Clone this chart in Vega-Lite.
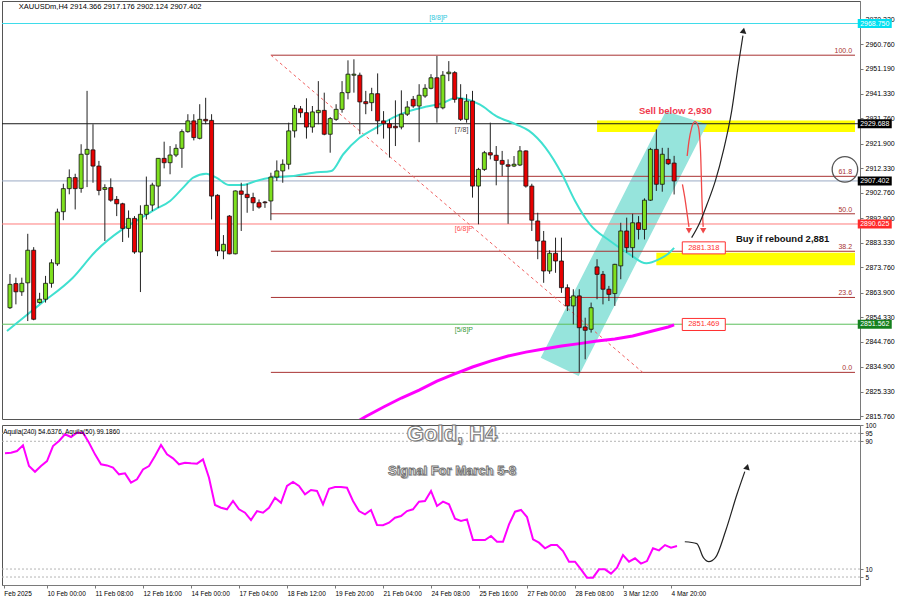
{
"$schema":"https://vega.github.io/schema/vega-lite/v6.json",
"background":"#ffffff",
"padding":0,
"spacing":1,
"config":{"view":{"stroke":"#555","strokeWidth":1},"font":"Liberation Sans","axis":{"labelFont":"Liberation Sans","labelColor":"#000","domainColor":"#7a7a7a","tickColor":"#7a7a7a","grid":false,"labelOverlap":false,"labelBound":false,"labelFlush":false,"tickCount":60}},
"datasets":{
"candles":[
{"i":1,"o":2858.0,"h":2871.1,"l":2857.5,"c":2867.1},{"i":2,"o":2867.4,"h":2869.7,"l":2859.3,"c":2864.2},{"i":3,"o":2864.2,"h":2869.7,"l":2862.6,"c":2867.5},{"i":4,"o":2867.7,"h":2886.8,"l":2852.8,"c":2880.4},{"i":5,"o":2880.4,"h":2881.6,"l":2853.1,"c":2853.5},{"i":6,"o":2860.0,"h":2863.8,"l":2859.6,"c":2861.3},{"i":7,"o":2861.3,"h":2870.4,"l":2860.0,"c":2867.5},{"i":8,"o":2867.5,"h":2876.9,"l":2865.8,"c":2875.5},{"i":9,"o":2875.1,"h":2896.6,"l":2874.3,"c":2895.3},{"i":10,"o":2895.4,"h":2906.3,"l":2892.1,"c":2904.4},
{"i":11,"o":2904.4,"h":2911.9,"l":2902.2,"c":2908.7},{"i":12,"o":2908.7,"h":2910.2,"l":2896.3,"c":2904.4},{"i":13,"o":2904.5,"h":2921.7,"l":2902.8,"c":2917.8},{"i":14,"o":2917.8,"h":2942.5,"l":2905.0,"c":2919.7},{"i":15,"o":2919.5,"h":2929.5,"l":2906.7,"c":2913.2},{"i":16,"o":2913.2,"h":2915.2,"l":2901.8,"c":2903.7},{"i":17,"o":2904.1,"h":2906.1,"l":2884.0,"c":2904.8},{"i":18,"o":2904.8,"h":2908.4,"l":2899.3,"c":2899.9},{"i":19,"o":2900.2,"h":2901.5,"l":2893.7,"c":2898.5},{"i":20,"o":2898.5,"h":2898.9,"l":2883.6,"c":2888.9},
{"i":21,"o":2888.9,"h":2895.9,"l":2885.3,"c":2892.8},{"i":22,"o":2892.8,"h":2893.7,"l":2879.0,"c":2879.7},{"i":23,"o":2879.7,"h":2897.9,"l":2864.1,"c":2894.4},{"i":24,"o":2894.4,"h":2909.1,"l":2892.4,"c":2897.9},{"i":25,"o":2898.0,"h":2906.7,"l":2895.7,"c":2905.8},{"i":26,"o":2905.4,"h":2916.3,"l":2896.9,"c":2916.2},{"i":27,"o":2916.2,"h":2922.7,"l":2912.3,"c":2914.5},{"i":28,"o":2914.5,"h":2921.0,"l":2910.0,"c":2917.5},{"i":29,"o":2917.5,"h":2921.7,"l":2916.7,"c":2920.1},{"i":30,"o":2920.1,"h":2927.5,"l":2912.5,"c":2926.6},
{"i":31,"o":2926.6,"h":2933.4,"l":2926.2,"c":2930.8},{"i":32,"o":2930.8,"h":2933.4,"l":2923.2,"c":2924.3},{"i":33,"o":2924.0,"h":2937.3,"l":2923.6,"c":2931.4},{"i":34,"o":2931.4,"h":2939.8,"l":2929.5,"c":2930.8},{"i":35,"o":2931.0,"h":2933.4,"l":2892.4,"c":2901.5},{"i":36,"o":2901.8,"h":2902.2,"l":2878.1,"c":2880.1},{"i":37,"o":2880.1,"h":2886.3,"l":2876.9,"c":2882.7},{"i":38,"o":2893.7,"h":2894.1,"l":2878.8,"c":2879.0},{"i":39,"o":2879.0,"h":2903.7,"l":2878.8,"c":2903.5},{"i":40,"o":2903.5,"h":2906.7,"l":2887.9,"c":2902.2},
{"i":41,"o":2902.2,"h":2906.3,"l":2895.0,"c":2900.9},{"i":42,"o":2900.9,"h":2902.8,"l":2895.7,"c":2898.9},{"i":43,"o":2898.9,"h":2900.2,"l":2896.6,"c":2897.2},{"i":44,"o":2899.2,"h":2899.6,"l":2896.9,"c":2898.9},{"i":45,"o":2899.6,"h":2910.6,"l":2892.1,"c":2908.9},{"i":46,"o":2908.9,"h":2915.4,"l":2907.4,"c":2911.3},{"i":47,"o":2911.3,"h":2915.8,"l":2906.7,"c":2913.9},{"i":48,"o":2913.9,"h":2930.1,"l":2911.9,"c":2926.9},{"i":49,"o":2926.9,"h":2937.0,"l":2924.3,"c":2935.7},{"i":50,"o":2935.5,"h":2936.6,"l":2932.1,"c":2934.0},
{"i":51,"o":2934.0,"h":2939.6,"l":2923.9,"c":2928.4},{"i":52,"o":2928.4,"h":2936.6,"l":2926.2,"c":2934.3},{"i":53,"o":2934.0,"h":2946.3,"l":2929.5,"c":2934.9},{"i":54,"o":2934.9,"h":2941.8,"l":2925.2,"c":2925.6},{"i":55,"o":2925.6,"h":2932.3,"l":2918.4,"c":2931.7},{"i":56,"o":2931.4,"h":2937.3,"l":2930.8,"c":2935.3},{"i":57,"o":2935.3,"h":2946.3,"l":2934.0,"c":2941.8},{"i":58,"o":2941.8,"h":2954.4,"l":2939.2,"c":2949.0},{"i":59,"o":2948.6,"h":2954.8,"l":2941.8,"c":2949.0},{"i":60,"o":2948.6,"h":2949.6,"l":2925.6,"c":2938.2},
{"i":61,"o":2938.3,"h":2942.5,"l":2933.4,"c":2937.5},{"i":62,"o":2937.9,"h":2943.7,"l":2934.6,"c":2941.4},{"i":63,"o":2941.4,"h":2949.3,"l":2925.6,"c":2930.8},{"i":64,"o":2930.8,"h":2934.6,"l":2923.9,"c":2929.7},{"i":65,"o":2929.7,"h":2931.4,"l":2916.5,"c":2928.1},{"i":66,"o":2928.7,"h":2938.8,"l":2921.0,"c":2928.1},{"i":67,"o":2928.4,"h":2942.7,"l":2927.5,"c":2933.4},{"i":68,"o":2933.4,"h":2938.5,"l":2932.7,"c":2936.2},{"i":69,"o":2939.2,"h":2940.5,"l":2935.9,"c":2936.6},{"i":70,"o":2936.6,"h":2945.1,"l":2922.5,"c":2940.8},
{"i":71,"o":2940.5,"h":2945.1,"l":2939.8,"c":2943.5},{"i":72,"o":2943.5,"h":2949.0,"l":2943.1,"c":2947.6},{"i":73,"o":2947.6,"h":2956.1,"l":2930.1,"c":2935.9},{"i":74,"o":2935.9,"h":2950.2,"l":2935.3,"c":2948.6},{"i":75,"o":2949.2,"h":2954.1,"l":2946.3,"c":2949.8},{"i":76,"o":2949.6,"h":2950.2,"l":2937.9,"c":2939.2},{"i":77,"o":2939.5,"h":2945.1,"l":2930.8,"c":2931.4},{"i":78,"o":2931.4,"h":2941.2,"l":2930.1,"c":2938.5},{"i":79,"o":2938.5,"h":2942.5,"l":2900.9,"c":2905.4},{"i":80,"o":2905.4,"h":2912.5,"l":2890.5,"c":2911.9},
{"i":81,"o":2911.9,"h":2919.1,"l":2911.3,"c":2918.4},{"i":82,"o":2918.4,"h":2930.1,"l":2915.8,"c":2917.5},{"i":83,"o":2917.4,"h":2921.0,"l":2905.7,"c":2915.4},{"i":84,"o":2915.4,"h":2919.1,"l":2909.3,"c":2913.9},{"i":85,"o":2913.7,"h":2915.8,"l":2890.7,"c":2913.1},{"i":86,"o":2913.2,"h":2917.1,"l":2912.8,"c":2913.9},{"i":87,"o":2913.6,"h":2921.0,"l":2913.2,"c":2919.1},{"i":88,"o":2919.1,"h":2919.3,"l":2904.8,"c":2905.4},{"i":89,"o":2905.4,"h":2906.3,"l":2887.9,"c":2892.1},{"i":90,"o":2891.8,"h":2895.0,"l":2876.9,"c":2884.0},
{"i":91,"o":2884.0,"h":2887.9,"l":2867.7,"c":2872.3},{"i":92,"o":2872.3,"h":2880.4,"l":2871.2,"c":2879.2},{"i":93,"o":2879.2,"h":2885.3,"l":2871.6,"c":2876.2},{"i":94,"o":2876.2,"h":2885.3,"l":2863.8,"c":2865.8},{"i":95,"o":2865.8,"h":2867.1,"l":2856.7,"c":2858.7},{"i":96,"o":2858.7,"h":2865.2,"l":2851.5,"c":2862.6},{"i":97,"o":2862.6,"h":2865.2,"l":2832.8,"c":2850.2},{"i":98,"o":2850.5,"h":2854.1,"l":2837.9,"c":2849.2},{"i":99,"o":2849.6,"h":2860.0,"l":2848.3,"c":2858.0},{"i":100,"o":2873.9,"h":2876.9,"l":2861.3,"c":2871.0},
{"i":101,"o":2871.0,"h":2872.3,"l":2859.3,"c":2865.2},{"i":102,"o":2865.2,"h":2866.5,"l":2860.6,"c":2863.2},{"i":103,"o":2863.5,"h":2875.1,"l":2858.7,"c":2874.9},{"i":104,"o":2874.3,"h":2891.1,"l":2869.1,"c":2887.9},{"i":105,"o":2887.9,"h":2893.1,"l":2879.4,"c":2881.4},{"i":106,"o":2881.4,"h":2894.6,"l":2877.5,"c":2891.1},{"i":107,"o":2891.1,"h":2893.7,"l":2884.6,"c":2888.5},{"i":108,"o":2888.5,"h":2900.6,"l":2884.6,"c":2899.9},{"i":109,"o":2899.9,"h":2920.3,"l":2899.6,"c":2919.7},{"i":110,"o":2919.7,"h":2927.5,"l":2903.5,"c":2906.1},
{"i":111,"o":2906.1,"h":2920.3,"l":2903.2,"c":2917.8},{"i":112,"o":2915.8,"h":2920.3,"l":2913.6,"c":2914.1},{"i":113,"o":2914.366,"h":2917.176,"l":2902.124,"c":2907.402}
],
"cyan":[
{"i":0.5,"p":2848.9},{"i":6.05,"p":2859.3},{"i":11.6,"p":2869.7},{"i":15.5,"p":2880.1},{"i":19.95,"p":2888.5},{"i":22.7,"p":2892.4},{"i":25.5,"p":2896.3},{"i":28,"p":2899.6},{"i":30.2,"p":2904.8},{"i":31.9,"p":2908.7},{"i":34.1,"p":2910.2},{"i":35.8,"p":2908.7},{"i":38,"p":2905.8},{"i":40.2,"p":2905.8},{"i":42.5,"p":2907.4},{"i":45.2,"p":2908.7},{"i":48.8,"p":2909.3},{"i":52.2,"p":2910.6},{"i":55.2,"p":2911.3},{"i":57.2,"p":2917.8},{"i":59.95,"p":2924.2},{"i":62.7,"p":2928.1},{"i":65.5,"p":2932.0},{"i":68.3,"p":2934.6},{"i":71.05,"p":2936.3},{"i":73.8,"p":2937.6},{"i":76.3,"p":2939.8},{"i":78,"p":2939.2},{"i":80.2,"p":2937.2},{"i":83,"p":2932.7},{"i":86.3,"p":2929.5},{"i":88.55,"p":2926.9},{"i":91.3,"p":2920.4},{"i":94.1,"p":2910.0},{"i":96.3,"p":2899.6},{"i":98.8,"p":2890.5},{"i":102.2,"p":2884.0},{"i":105.5,"p":2878.8},{"i":108.3,"p":2875.3},{"i":110.5,"p":2876.9},{"i":112.2,"p":2879.4},{"i":113,"p":2881.3}
],
"ma200":[
{"i":58,"p":2811.5},{"i":61,"p":2815.6},{"i":64,"p":2819.3},{"i":67,"p":2822.8},{"i":70,"p":2825.9},{"i":73,"p":2829.4},{"i":76,"p":2832.2},{"i":79,"p":2834.9},{"i":82,"p":2837.2},{"i":85,"p":2839.2},{"i":88,"p":2840.7},{"i":91,"p":2841.9},{"i":94,"p":2843.1},{"i":97,"p":2844.0},{"i":100,"p":2845.0},{"i":103,"p":2845.8},{"i":106,"p":2847.0},{"i":109,"p":2848.7},{"i":112,"p":2850.5},{"i":113,"p":2851.3}
],
"levels":[
{"p":2968.75,"lvl":"8/8"},{"p":2929.688,"lvl":"7/8"},{"p":2907.402,"lvl":"price"},{"p":2890.625,"lvl":"6/8"},{"p":2851.562,"lvl":"5/8"}
],
"fib":[
{"p":2956.4,"label":"100.0"},{"p":2909.2,"label":"61.8"},{"p":2894.6,"label":"50.0"},{"p":2880.0,"label":"38.2"},{"p":2862.0,"label":"23.6"},{"p":2832.8,"label":"0.0"}
],
"osc":[
{"i":1,"v":82.5},{"i":2,"v":82.8},{"i":3,"v":83.9},{"i":4,"v":87.5},{"i":5,"v":74.5},{"i":6,"v":70.9},{"i":7,"v":74.5},{"i":8,"v":77.6},{"i":9,"v":87.0},{"i":10,"v":90.2},
{"i":11,"v":94.4},{"i":12,"v":92.7},{"i":13,"v":95.4},{"i":14,"v":95.4},{"i":15,"v":89.1},{"i":16,"v":81.8},{"i":17,"v":75.6},{"i":18,"v":74.9},{"i":19,"v":73.5},{"i":20,"v":69.3},
{"i":21,"v":69.9},{"i":22,"v":64.1},{"i":23,"v":66.2},{"i":24,"v":72.4},{"i":25,"v":74.5},{"i":26,"v":80.8},{"i":27,"v":87.7},{"i":28,"v":81.8},{"i":29,"v":79.3},{"i":30,"v":75.6},
{"i":31,"v":76.6},{"i":32,"v":76.2},{"i":33,"v":76.0},{"i":34,"v":78.7},{"i":35,"v":67.2},{"i":36,"v":50.1},{"i":37,"v":48.4},{"i":38,"v":47.4},{"i":39,"v":52.6},{"i":40,"v":47.4},
{"i":41,"v":45.3},{"i":42,"v":40.7},{"i":43,"v":46.3},{"i":44,"v":45.3},{"i":45,"v":48.4},{"i":46,"v":54.7},{"i":47,"v":51.5},{"i":48,"v":62.0},{"i":49,"v":64.5},{"i":50,"v":62.0},
{"i":51,"v":56.8},{"i":52,"v":59.5},{"i":53,"v":58.9},{"i":54,"v":50.5},{"i":55,"v":60.3},{"i":56,"v":61.4},{"i":57,"v":61.4},{"i":58,"v":60.9},{"i":59,"v":52.6},{"i":60,"v":46.3},
{"i":61,"v":44.3},{"i":62,"v":47.0},{"i":63,"v":37.6},{"i":64,"v":37.4},{"i":65,"v":39.0},{"i":66,"v":42.1},{"i":67,"v":43.2},{"i":68,"v":46.3},{"i":69,"v":47.4},{"i":70,"v":52.2},
{"i":71,"v":52.6},{"i":72,"v":58.9},{"i":73,"v":49.5},{"i":74,"v":52.2},{"i":75,"v":50.5},{"i":76,"v":41.5},{"i":77,"v":40.1},{"i":78,"v":41.1},{"i":79,"v":28.2},{"i":80,"v":28.2},
{"i":81,"v":28.2},{"i":82,"v":30.7},{"i":83,"v":27.1},{"i":84,"v":27.1},{"i":85,"v":38.0},{"i":86,"v":45.9},{"i":87,"v":47.0},{"i":88,"v":42.6},{"i":89,"v":28.6},{"i":90,"v":26.5},
{"i":91,"v":23.0},{"i":92,"v":25.0},{"i":93,"v":25.0},{"i":94,"v":21.3},{"i":95,"v":14.6},{"i":96,"v":14.6},{"i":97,"v":9.8},{"i":98,"v":4.6},{"i":99,"v":4.6},{"i":100,"v":9.8},
{"i":101,"v":9.8},{"i":102,"v":7.1},{"i":103,"v":10.8},{"i":104,"v":18.8},{"i":105,"v":14.6},{"i":106,"v":16.7},{"i":107,"v":13.4},{"i":108,"v":15.0},{"i":109,"v":23.0},{"i":110,"v":21.7},
{"i":111,"v":25.0},{"i":112,"v":23.4},{"i":113,"v":24.4}
]
},
"vconcat":[
{
"width":858,"height":418,
"resolve":{"scale":{"stroke":"independent","fill":"independent"}},
"layer":[
{"data":{"values":[{"from":100,"top":2931.0,"bottom":2926.5},{"from":110,"top":2879.4,"bottom":2874.5}]},
 "mark":{"type":"rect","color":"#ffff00"},
 "encoding":{
  "x":{"field":"from","type":"quantitative","scale":{"domain":[0.5,143.5],"nice":false,"zero":false},"axis":null},
  "x2":{"datum":143.5},
  "y":{"field":"top","type":"quantitative","scale":{"domain":[2814.63,2977.52],"nice":false,"zero":false},
   "axis":{"orient":"right","title":null,"values":[2970.32,2960.76,2951.19,2941.33,2931.76,2921.9,2912.33,2902.76,2892.9,2883.33,2873.76,2863.9,2854.33,2844.76,2834.9,2825.33,2815.76],"tickCount":60,"format":".3f","labelFontSize":7,"labelPadding":2,"tickSize":3,"labelOverlap":false,"labelBound":false,"labelFlush":false}},
  "y2":{"field":"bottom"}}},
{"data":{"values":[{"i":90.5,"lo":2838.5,"hi":2838.5},{"i":96.9,"lo":2831.4,"hi":2867.6},{"i":111.6,"lo":2898.0,"hi":2934.6},{"i":118.55,"lo":2929.5,"hi":2929.5}]},
 "mark":{"type":"area","color":"#96e4dc"},
 "encoding":{
  "x":{"field":"i","type":"quantitative","scale":{"domain":[0.5,143.5],"nice":false,"zero":false},"axis":null},
  "y":{"field":"lo","type":"quantitative","scale":{"domain":[2814.63,2977.52],"nice":false,"zero":false}},
  "y2":{"field":"hi"}}},
{"data":{"name":"levels"},
 "mark":{"type":"rule","strokeWidth":1},
 "encoding":{
  "y":{"field":"p","type":"quantitative","scale":{"domain":[2814.63,2977.52],"nice":false,"zero":false}},
  "stroke":{"field":"lvl","type":"nominal","scale":{"domain":["8/8","7/8","price","6/8","5/8"],"range":["#3fdcea","#1a1a1a","#9aaac4","#ff7b7b","#5cbf5c"]},"legend":null}}},
{"data":{"name":"fib"},
 "mark":{"type":"rule","color":"#a83232","strokeWidth":1},
 "encoding":{
  "x":{"datum":45,"type":"quantitative","scale":{"domain":[0.5,143.5],"nice":false,"zero":false},"axis":null},
  "x2":{"datum":143.5},
  "y":{"field":"p","type":"quantitative","scale":{"domain":[2814.63,2977.52],"nice":false,"zero":false}}}},
{"data":{"name":"fib"},
 "mark":{"type":"text","align":"right","baseline":"bottom","dy":-1,"fontSize":7,"color":"#a83232"},
 "encoding":{
  "x":{"datum":143,"type":"quantitative","scale":{"domain":[0.5,143.5],"nice":false,"zero":false},"axis":null},
  "y":{"field":"p","type":"quantitative","scale":{"domain":[2814.63,2977.52],"nice":false,"zero":false}},
  "text":{"field":"label"}}},
{"data":{"values":[{"i":45,"p":2956.4},{"i":107.7,"p":2832.8}]},
 "mark":{"type":"line","color":"#f06060","strokeDash":[3,3],"strokeWidth":1},
 "encoding":{
  "x":{"field":"i","type":"quantitative","scale":{"domain":[0.5,143.5],"nice":false,"zero":false},"axis":null},
  "y":{"field":"p","type":"quantitative","scale":{"domain":[2814.63,2977.52],"nice":false,"zero":false}}}},
{"data":{"name":"ma200"},
 "mark":{"type":"line","color":"#ff00ff","strokeWidth":3,"clip":true},
 "encoding":{
  "x":{"field":"i","type":"quantitative","scale":{"domain":[0.5,143.5],"nice":false,"zero":false},"axis":null},
  "y":{"field":"p","type":"quantitative","scale":{"domain":[2814.63,2977.52],"nice":false,"zero":false}}}},
{"data":{"name":"cyan"},
 "mark":{"type":"line","color":"#40e0d0","strokeWidth":2,"interpolate":"monotone"},
 "encoding":{
  "x":{"field":"i","type":"quantitative","scale":{"domain":[0.5,143.5],"nice":false,"zero":false},"axis":null},
  "y":{"field":"p","type":"quantitative","scale":{"domain":[2814.63,2977.52],"nice":false,"zero":false}}}},
{"data":{"name":"candles"},
 "mark":{"type":"rule","color":"#222","strokeWidth":1},
 "encoding":{
  "x":{"field":"i","type":"quantitative","scale":{"domain":[0.5,143.5],"nice":false,"zero":false},"axis":null},
  "y":{"field":"l","type":"quantitative","scale":{"domain":[2814.63,2977.52],"nice":false,"zero":false}},
  "y2":{"field":"h"}}},
{"data":{"name":"candles"},
 "mark":{"type":"bar","size":4,"stroke":"#111","strokeWidth":0.8},
 "encoding":{
  "x":{"field":"i","type":"quantitative","scale":{"domain":[0.5,143.5],"nice":false,"zero":false},"axis":null},
  "y":{"field":"o","type":"quantitative","scale":{"domain":[2814.63,2977.52],"nice":false,"zero":false}},
  "y2":{"field":"c"},
  "color":{"condition":{"test":"datum.c >= datum.o","value":"#7ee01e"},"value":"#e80000"}}},
{"data":{"values":[{"id":"a","i":115.2,"p":2917.1},{"id":"a","i":115.5,"p":2922.9},{"id":"a","i":115.95,"p":2928.1},{"id":"a","i":116.5,"p":2930.5},{"id":"a","i":117.05,"p":2928.8},{"id":"a","i":117.45,"p":2919.1},{"id":"a","i":117.7,"p":2899.6},{"id":"a","i":117.9,"p":2889.5},{"id":"b","i":114.4,"p":2906.1},{"id":"b","i":114.8,"p":2900.9},{"id":"b","i":115.2,"p":2894.4},{"id":"b","i":115.5,"p":2889.5}]},
 "mark":{"type":"line","color":"#f04848","strokeWidth":1.3,"interpolate":"monotone"},
 "encoding":{
  "x":{"field":"i","type":"quantitative","scale":{"domain":[0.5,143.5],"nice":false,"zero":false},"axis":null},
  "y":{"field":"p","type":"quantitative","scale":{"domain":[2814.63,2977.52],"nice":false,"zero":false}},
  "detail":{"field":"id"}}},
{"data":{"values":[{"i":117.9,"p":2888.0},{"i":115.5,"p":2888.0}]},
 "mark":{"type":"point","shape":"triangle-down","filled":true,"size":40,"color":"#f04848","opacity":1},
 "encoding":{
  "x":{"field":"i","type":"quantitative","scale":{"domain":[0.5,143.5],"nice":false,"zero":false},"axis":null},
  "y":{"field":"p","type":"quantitative","scale":{"domain":[2814.63,2977.52],"nice":false,"zero":false}}}},
{"data":{"values":[{"i":115.95,"p":2885.3},{"i":117.2,"p":2890.5},{"i":118.55,"p":2898.3},{"i":119.95,"p":2907.4},{"i":121.3,"p":2919.1},{"i":122.7,"p":2934.6},{"i":123.8,"p":2952.2},{"i":124.6,"p":2964.0}]},
 "mark":{"type":"line","color":"#222","strokeWidth":1.2,"interpolate":"monotone"},
 "encoding":{
  "x":{"field":"i","type":"quantitative","scale":{"domain":[0.5,143.5],"nice":false,"zero":false},"axis":null},
  "y":{"field":"p","type":"quantitative","scale":{"domain":[2814.63,2977.52],"nice":false,"zero":false}}}},
{"data":{"values":[{"i":124.7,"p":2966.0}]},
 "mark":{"type":"point","shape":"triangle-up","filled":true,"size":45,"color":"#222","angle":10,"opacity":1},
 "encoding":{
  "x":{"field":"i","type":"quantitative","scale":{"domain":[0.5,143.5],"nice":false,"zero":false},"axis":null},
  "y":{"field":"p","type":"quantitative","scale":{"domain":[2814.63,2977.52],"nice":false,"zero":false}}}},
{"data":{"values":[{"i":113.2,"p":2934.6,"t":"Sell below 2,930"}]},
 "mark":{"type":"text","fontSize":9.5,"fontWeight":"bold","color":"#f0384c","align":"center","baseline":"middle"},
 "encoding":{
  "x":{"field":"i","type":"quantitative","scale":{"domain":[0.5,143.5],"nice":false,"zero":false},"axis":null},
  "y":{"field":"p","type":"quantitative","scale":{"domain":[2814.63,2977.52],"nice":false,"zero":false}},
  "text":{"field":"t"}}},
{"data":{"values":[{"i":131.3,"p":2884.6,"t":"Buy if rebound 2,881"}]},
 "mark":{"type":"text","fontSize":9.5,"fontWeight":"bold","color":"#111","align":"center","baseline":"middle"},
 "encoding":{
  "x":{"field":"i","type":"quantitative","scale":{"domain":[0.5,143.5],"nice":false,"zero":false},"axis":null},
  "y":{"field":"p","type":"quantitative","scale":{"domain":[2814.63,2977.52],"nice":false,"zero":false}},
  "text":{"field":"t"}}},
{"data":{"values":[{"i":71.7,"p":2970.9,"t":"[8/8]P"}]},
 "mark":{"type":"text","fontSize":7,"color":"#30c8dc","align":"left","baseline":"middle"},
 "encoding":{
  "x":{"field":"i","type":"quantitative","scale":{"domain":[0.5,143.5],"nice":false,"zero":false},"axis":null},
  "y":{"field":"p","type":"quantitative","scale":{"domain":[2814.63,2977.52],"nice":false,"zero":false}},
  "text":{"field":"t"}}},
{"data":{"values":[{"i":76,"p":2927.2,"t":"[7/8]"}]},
 "mark":{"type":"text","fontSize":7,"color":"#444","align":"left","baseline":"middle"},
 "encoding":{
  "x":{"field":"i","type":"quantitative","scale":{"domain":[0.5,143.5],"nice":false,"zero":false},"axis":null},
  "y":{"field":"p","type":"quantitative","scale":{"domain":[2814.63,2977.52],"nice":false,"zero":false}},
  "text":{"field":"t"}}},
{"data":{"values":[{"i":76,"p":2888.8,"t":"[6/8]P"}]},
 "mark":{"type":"text","fontSize":7,"color":"#ff5050","align":"left","baseline":"middle"},
 "encoding":{
  "x":{"field":"i","type":"quantitative","scale":{"domain":[0.5,143.5],"nice":false,"zero":false},"axis":null},
  "y":{"field":"p","type":"quantitative","scale":{"domain":[2814.63,2977.52],"nice":false,"zero":false}},
  "text":{"field":"t"}}},
{"data":{"values":[{"i":76,"p":2849.5,"t":"[5/8]P"}]},
 "mark":{"type":"text","fontSize":7,"color":"#3a9a3a","align":"left","baseline":"middle"},
 "encoding":{
  "x":{"field":"i","type":"quantitative","scale":{"domain":[0.5,143.5],"nice":false,"zero":false},"axis":null},
  "y":{"field":"p","type":"quantitative","scale":{"domain":[2814.63,2977.52],"nice":false,"zero":false}},
  "text":{"field":"t"}}},
{"data":{"values":[{"p":2881.318},{"p":2851.469}]},
 "mark":{"type":"point","shape":"M-1,-0.28L1,-0.28L1,0.28L-1,0.28Z","filled":true,"size":1849,"fill":"#ffffff","stroke":"#ff3030","strokeWidth":1,"opacity":1},
 "encoding":{
  "x":{"datum":118,"type":"quantitative","scale":{"domain":[0.5,143.5],"nice":false,"zero":false},"axis":null},
  "y":{"field":"p","type":"quantitative","scale":{"domain":[2814.63,2977.52],"nice":false,"zero":false}}}},
{"data":{"values":[{"p":2881.318},{"p":2851.469}]},
 "mark":{"type":"text","fontSize":7.5,"color":"#ff3030","align":"center","baseline":"middle"},
 "encoding":{
  "x":{"datum":118,"type":"quantitative","scale":{"domain":[0.5,143.5],"nice":false,"zero":false},"axis":null},
  "y":{"field":"p","type":"quantitative","scale":{"domain":[2814.63,2977.52],"nice":false,"zero":false}},
  "text":{"field":"p","format":".3f"}}},
{"data":{"name":"levels"},
 "mark":{"type":"point","shape":"M-1,-0.265L1,-0.265L1,0.265L-1,0.265Z","filled":true,"size":1156,"opacity":1},
 "encoding":{
  "x":{"datum":146.83,"type":"quantitative","scale":{"domain":[0.5,143.5],"nice":false,"zero":false},"axis":null},
  "y":{"field":"p","type":"quantitative","scale":{"domain":[2814.63,2977.52],"nice":false,"zero":false}},
  "fill":{"field":"lvl","type":"nominal","scale":{"domain":["8/8","7/8","price","6/8","5/8"],"range":["#00e0f0","#000000","#000000","#ff2a2a","#14801e"]},"legend":null}}},
{"data":{"name":"levels"},
 "mark":{"type":"text","fontSize":7,"color":"#ffffff","align":"center","baseline":"middle"},
 "encoding":{
  "x":{"datum":146.83,"type":"quantitative","scale":{"domain":[0.5,143.5],"nice":false,"zero":false},"axis":null},
  "y":{"field":"p","type":"quantitative","scale":{"domain":[2814.63,2977.52],"nice":false,"zero":false}},
  "text":{"field":"p","format":".3f"}}},
{"data":{"values":[{"i":141.8,"p":2911.9}]},
 "mark":{"type":"point","shape":"circle","filled":false,"size":650,"stroke":"#555","strokeWidth":1.3,"opacity":1},
 "encoding":{
  "x":{"field":"i","type":"quantitative","scale":{"domain":[0.5,143.5],"nice":false,"zero":false},"axis":null},
  "y":{"field":"p","type":"quantitative","scale":{"domain":[2814.63,2977.52],"nice":false,"zero":false}}}},
{"data":{"values":[{"i":2.5,"p":2975.2,"t":"XAUUSDm,H4  2914.366 2917.176 2902.124 2907.402"}]},
 "mark":{"type":"text","fontSize":7.5,"color":"#000","align":"left","baseline":"middle"},
 "encoding":{
  "x":{"field":"i","type":"quantitative","scale":{"domain":[0.5,143.5],"nice":false,"zero":false},"axis":null},
  "y":{"field":"p","type":"quantitative","scale":{"domain":[2814.63,2977.52],"nice":false,"zero":false}},
  "text":{"field":"t"}}}
]
},
{
"width":858,"height":160,
"layer":[
{"data":{"values":[{"v":95},{"v":90},{"v":10},{"v":5}]},
 "mark":{"type":"rule","color":"#b4b4b4","strokeDash":[2,2],"strokeWidth":1},
 "encoding":{
  "y":{"field":"v","type":"quantitative","scale":{"domain":[0,100.2],"nice":false,"zero":false},
   "axis":{"orient":"right","title":null,"values":[100,95,90,10,5],"tickCount":60,"labelFontSize":6.5,"labelPadding":2,"tickSize":3,"labelOverlap":false,"labelBound":false,"labelFlush":false}}}},
{"data":{"name":"osc"},
 "mark":{"type":"line","color":"#ff00ff","strokeWidth":2},
 "encoding":{
  "x":{"field":"i","type":"quantitative","scale":{"domain":[0.5,143.5],"nice":false,"zero":false},
   "axis":{"orient":"bottom","title":null,"values":[0.8,8,16,24,32,40,48,56,64,72,80,88,96,104,112],"tickCount":60,"labelExpr":"['Feb 2025','10 Feb 00:00','11 Feb 08:00','12 Feb 16:00','14 Feb 00:00','17 Feb 04:00','18 Feb 12:00','19 Feb 20:00','21 Feb 04:00','24 Feb 08:00','25 Feb 16:00','27 Feb 00:00','28 Feb 08:00','3 Mar 12:00','4 Mar 20:00'][round(datum.value/8)]","labelAlign":"left","labelFontSize":6.5,"labelPadding":2,"tickSize":3,"labelOverlap":false,"labelFlush":false,"labelBound":false}},
  "y":{"field":"v","type":"quantitative","scale":{"domain":[0,100.2],"nice":false,"zero":false}}}},
{"data":{"values":[{"i":114.3,"v":27.1},{"i":116.3,"v":25.9},{"i":117.4,"v":17.1},{"i":118.3,"v":14.6},{"i":119.4,"v":17.1},{"i":121.1,"v":33.8},{"i":123,"v":56.8},{"i":124.3,"v":71.0}]},
 "mark":{"type":"line","color":"#222","strokeWidth":1.2,"interpolate":"monotone"},
 "encoding":{
  "x":{"field":"i","type":"quantitative","scale":{"domain":[0.5,143.5],"nice":false,"zero":false}},
  "y":{"field":"v","type":"quantitative","scale":{"domain":[0,100.2],"nice":false,"zero":false}}}},
{"data":{"values":[{"i":124.7,"v":74.0}]},
 "mark":{"type":"point","shape":"triangle-up","filled":true,"size":45,"color":"#222","angle":15,"opacity":1},
 "encoding":{
  "x":{"field":"i","type":"quantitative","scale":{"domain":[0.5,143.5],"nice":false,"zero":false}},
  "y":{"field":"v","type":"quantitative","scale":{"domain":[0,100.2],"nice":false,"zero":false}}}},
{"data":{"values":[{"i":0.7,"v":96.0,"t":"Aquila(240) 54.6376,  Aquila(50) 99.1860"}]},
 "mark":{"type":"text","fontSize":6.5,"color":"#000","align":"left","baseline":"middle"},
 "encoding":{
  "x":{"field":"i","type":"quantitative","scale":{"domain":[0.5,143.5],"nice":false,"zero":false}},
  "y":{"field":"v","type":"quantitative","scale":{"domain":[0,100.2],"nice":false,"zero":false}},
  "text":{"field":"t"}}},
{"data":{"values":[{"i":75.5,"v":94.6,"t":"Gold, H4","s":"big"},{"i":75.5,"v":71.7,"t":"Signal For March 5-8","s":"small"}]},
 "mark":{"type":"text","fontWeight":"bold","color":"#c4c4c4","align":"center","baseline":"middle","dx":1.5,"dy":1.5},
 "encoding":{
  "x":{"field":"i","type":"quantitative","scale":{"domain":[0.5,143.5],"nice":false,"zero":false}},
  "y":{"field":"v","type":"quantitative","scale":{"domain":[0,100.2],"nice":false,"zero":false}},
  "size":{"field":"s","type":"nominal","scale":{"domain":["big","small"],"range":[22,13]},"legend":null},
  "text":{"field":"t"}}},
{"data":{"values":[{"i":75.5,"v":94.6,"t":"Gold, H4","s":"big"},{"i":75.5,"v":71.7,"t":"Signal For March 5-8","s":"small"}]},
 "mark":{"type":"text","fontWeight":"bold","fill":"#ffffff","stroke":"#707070","strokeWidth":0.9,"align":"center","baseline":"middle"},
 "encoding":{
  "x":{"field":"i","type":"quantitative","scale":{"domain":[0.5,143.5],"nice":false,"zero":false}},
  "y":{"field":"v","type":"quantitative","scale":{"domain":[0,100.2],"nice":false,"zero":false}},
  "size":{"field":"s","type":"nominal","scale":{"domain":["big","small"],"range":[22,13]},"legend":null},
  "text":{"field":"t"}}}
]
}
]
}
